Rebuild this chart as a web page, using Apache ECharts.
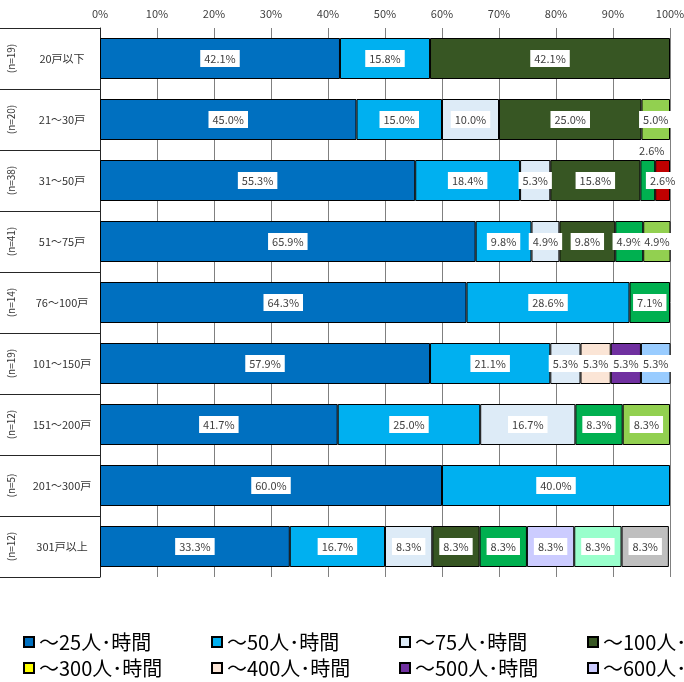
<!DOCTYPE html>
<html>
<head>
<meta charset="utf-8">
<script src="https://cdn.jsdelivr.net/npm/echarts@6/dist/echarts.min.js"></script>
<style>
html, body { margin: 0; padding: 0; background: #fff; }
#main { width: 684px; height: 682px; }
</style>
</head>
<body>
<div id="main"></div>
<script>
var categories = ['20戸以下', '21～30戸', '31～50戸', '51～75戸', '76～100戸', '101～150戸', '151～200戸', '201～300戸', '301戸以上'];
var sampleSizes = ['(n=19)', '(n=20)', '(n=38)', '(n=41)', '(n=14)', '(n=19)', '(n=12)', '(n=5)', '(n=12)'];

var seriesNames = ['～25人･時間', '～50人･時間', '～75人･時間', '～100人･時間', '～150人･時間', '～200人･時間', '～250人･時間',
  '～300人･時間', '～400人･時間', '～500人･時間', '～600人･時間', '～700人･時間', '～800人･時間', '800人･時間超'];

// percentages per series, one value per category (null = none)
var v25  = [42.1, 45.0, 55.3, 65.9, 64.3, 57.9, 41.7, 60.0, 33.3];
var v50  = [15.8, 15.0, 18.4, 9.8, 28.6, 21.1, 25.0, 40.0, 16.7];
var v75  = [null, 10.0, 5.3, 4.9, null, 5.3, 16.7, null, 8.3];
var v100 = [42.1, 25.0, 15.8, 9.8, null, null, null, null, 8.3];
var v150 = [null, null, 2.6, 4.9, 7.1, null, 8.3, null, 8.3];
var v200 = [null, 5.0, null, 4.9, null, null, 8.3, null, null];
var v250 = [null, null, 2.6, null, null, null, null, null, null];
var v300 = [null, null, null, null, null, null, null, null, null];
var v400 = [null, null, null, null, null, 5.3, null, null, null];
var v500 = [null, null, null, null, null, 5.3, null, null, null];
var v600 = [null, null, null, null, null, null, null, null, 8.3];
var v700 = [null, null, null, null, null, 5.3, null, null, null];
var v800 = [null, null, null, null, null, null, null, null, 8.3];
var vOver = [null, null, null, null, null, null, null, null, 8.3];

var seriesValues = [v25, v50, v75, v100, v150, v200, v250, v300, v400, v500, v600, v700, v800, vOver];
var colors = ['#0070C0', '#00B0F0', '#DDEBF7', '#375623', '#00B050', '#92D050', '#C00000',
  '#FFFF00', '#FBE5D6', '#7030A0', '#CCCCFF', '#99CCFF', '#99FFCC', '#BFBFBF'];

var legendRow1 = seriesNames.slice(0, 4);
var legendRow2 = seriesNames.slice(7, 11);

var font = '"Noto Sans CJK JP", "Noto Sans", sans-serif';

var chart = echarts.init(document.getElementById('main'));

var series = seriesNames.map(function (name, i) {
  var data = seriesValues[i].map(function (v, j) {
    // the small green 2.6% in 31～50戸 sits above its bar
    if (i === 4 && j === 2) {
      return { value: v, label: { position: 'top', distance: 1, offset: [4, 0] } };
    }
    return v;
  });
  return {
    name: name,
    type: 'bar',
    stack: 'total',
    barWidth: 41,
    data: data,
    itemStyle: { color: colors[i], borderColor: '#000', borderWidth: 1 },
    label: {
      show: true,
      position: 'inside',
      formatter: function (p) { return Number(p.value).toFixed(1) + '%'; },
      backgroundColor: '#fff',
      padding: [3, 4],
      color: '#404040',
      fontSize: 11,
      fontFamily: font
    },
    emphasis: { disabled: true }
  };
});

function legendRow(names, top) {
  return {
    data: names,
    top: top,
    left: 23,
    width: 1000,
    padding: 0,
    icon: 'rect',
    itemWidth: 10,
    itemHeight: 10,
    itemGap: 24,
    selectedMode: false,
    formatter: '{a|{name}}',
    textStyle: {
      color: '#000',
      fontFamily: font,
      fontSize: 20,
      rich: { a: { width: 148, fontSize: 20, lineHeight: 22, fontFamily: font, color: '#000' } }
    }
  };
}

var option = {
  animation: false,
  backgroundColor: '#fff',
  grid: { left: 100, right: 14, top: 28, bottom: 105, outerBoundsMode: 'none' },
  legend: [legendRow(legendRow1, 632), legendRow(legendRow2, 658)],
  xAxis: {
    type: 'value',
    position: 'top',
    min: 0,
    max: 100,
    interval: 10,
    axisLine: { show: false },
    axisTick: { show: false },
    splitLine: { show: true, lineStyle: { color: '#808080', width: 1 } },
    axisLabel: { formatter: '{value}%', fontSize: 11, color: '#404040', margin: 9, fontFamily: font }
  },
  yAxis: [{
    type: 'category',
    inverse: true,
    data: categories,
    axisLine: { show: true, lineStyle: { color: '#262626' } },
    axisTick: { show: true, length: 100, interval: 0, lineStyle: { color: '#262626' } },
    axisLabel: { interval: 0, align: 'center', margin: 38, fontSize: 11, color: '#333', fontFamily: font },
    splitLine: { show: false }
  }, {
    type: 'category',
    inverse: true,
    position: 'left',
    data: sampleSizes,
    axisLine: { show: false },
    axisTick: { show: false },
    splitLine: { show: false },
    axisLabel: { interval: 0, rotate: 90, align: 'center', verticalAlign: 'middle', margin: 89, fontSize: 10, color: '#333', fontFamily: font }
  }],
  series: series
};

chart.setOption(option);
</script>
</body>
</html>
